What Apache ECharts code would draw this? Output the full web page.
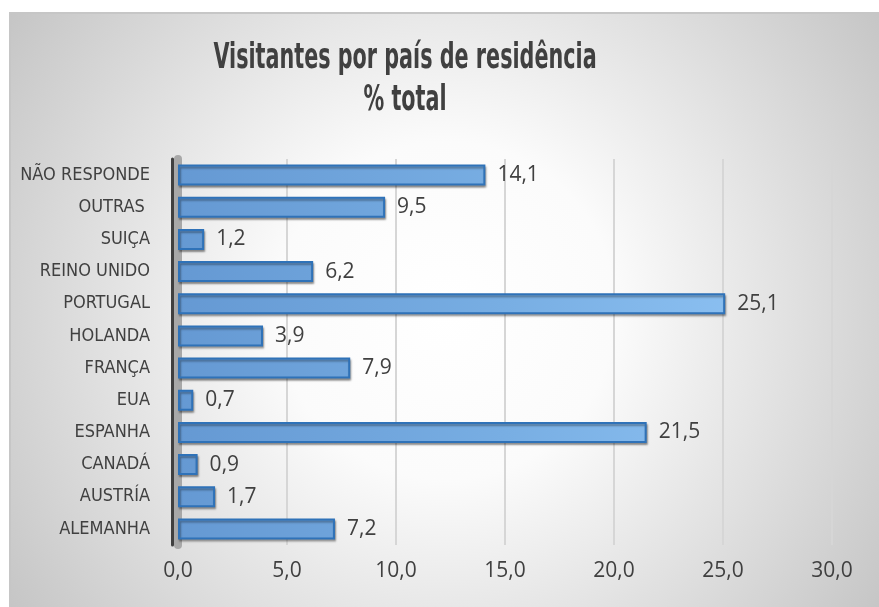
<!DOCTYPE html>
<html>
<head>
<meta charset="utf-8">
<script src="https://cdn.jsdelivr.net/npm/echarts@6/dist/echarts.min.js"></script>
<style>
  html, body { margin: 0; padding: 0; background: #fff; }
  #main {
    position: absolute; left: 9px; top: 12px;
    width: 870px; height: 593px;
    border-top: 2px solid #c6c6c6; border-left: 2px solid #c6c6c6;
  }
</style>
</head>
<body>
<div id="main"></div>
<script>
// categorias (de baixo para cima)
var paises = ['ALEMANHA', 'AUSTRÍA', 'CANADÁ', 'ESPANHA', 'EUA', 'FRANÇA',
  'HOLANDA', 'PORTUGAL', 'REINO UNIDO', 'SUIÇA', 'OUTRAS ', 'NÃO RESPONDE'];
// % do total
var percentagens = [7.2, 1.7, 0.9, 21.5, 0.7, 7.9, 3.9, 25.1, 6.2, 1.2, 9.5, 14.1];
// eixo x
var eixoMin = 0, eixoMax = 30, eixoPasso = 5;

var tituloTxt = 'Visitantes por país de residência\n% total';
var fonteEstreita = '"DejaVu Sans Condensed", "DejaVu Sans", sans-serif';

//formato com vírgula decimal
function virgula(v) {
    return Number(v).toFixed(1).replace('.', ',');
}

var myChart = echarts.init(document.getElementById('main'));
var option = {
    backgroundColor: {
        type: 'radial', x: 0.5, y: 0.5, r: 0.95,
        colorStops: [
            { offset: 0, color: '#ffffff' },
            { offset: 0.3, color: '#fbfbfb' },
            { offset: 1, color: '#c0c0c0' }
        ]
    },
    // titulo condensado (fonte estreita nao existe, por isso escala em x)
    graphic: [
        {
            type: 'text',
            x: 394,
            y: 24,
            scaleX: 0.64,
            style: {
                text: tituloTxt,
                x: 0, y: 0,
                align: 'center',
                verticalAlign: 'top',
                fontFamily: fonteEstreita,
                fontWeight: 'bold',
                fontSize: 36,
                lineHeight: 42,
                fill: '#404040'
            }
        }
    ],
    grid: { left: 167, right: 49, top: 145, bottom: 62 },
    xAxis: {
        type: 'value',
        min: eixoMin, max: eixoMax, interval: eixoPasso,
        axisLine: { show: false },
        axisTick: { show: false },
        axisLabel: {
            margin: 16,
            formatter: virgula,
            fontFamily: '"Open Sans", sans-serif',
            fontSize: 21,
            color: '#404040'
        },
        splitLine: { lineStyle: { color: '#d6d6d6', width: 2 } }
    },
    yAxis: [
        {
            type: 'category',
            data: paises,
            axisTick: { show: false },
            axisLine: { lineStyle: { color: '#a8a8a8', width: 8 } },
            axisLabel: {
                margin: 28,
                fontFamily: fonteEstreita,
                fontSize: 18,
                color: '#404040'
            }
        },
        {
            // linha escura da parede
            type: 'category',
            position: 'left',
            offset: 6,
            data: paises,
            axisTick: { show: false },
            axisLabel: { show: false },
            axisLine: { lineStyle: { color: '#404040', width: 3 } }
        }
    ],
    series: [
        {
            type: 'bar',
            data: percentagens,
            barWidth: 21,
            itemStyle: {
                color: {
                    type: 'linear', x: 167, y: 0, x2: 821, y2: 0, global: true,
                    colorStops: [
                        { offset: 0, color: '#6599d3' },
                        { offset: 0.5, color: '#78aee3' },
                        { offset: 1, color: '#92c6f6' }
                    ]
                },
                borderColor: '#2f72b8',
                borderWidth: 2,
                shadowColor: 'rgba(0,0,0,0.35)',
                shadowBlur: 2,
                shadowOffsetX: 1,
                shadowOffsetY: 2
            },
            label: {
                show: true,
                position: 'right',
                distance: 12,
                formatter: function (p) { return virgula(p.value); },
                fontFamily: '"Open Sans", sans-serif',
                fontSize: 21,
                color: '#404040'
            }
        }
    ]
};
myChart.setOption(option);
</script>
</body>
</html>
